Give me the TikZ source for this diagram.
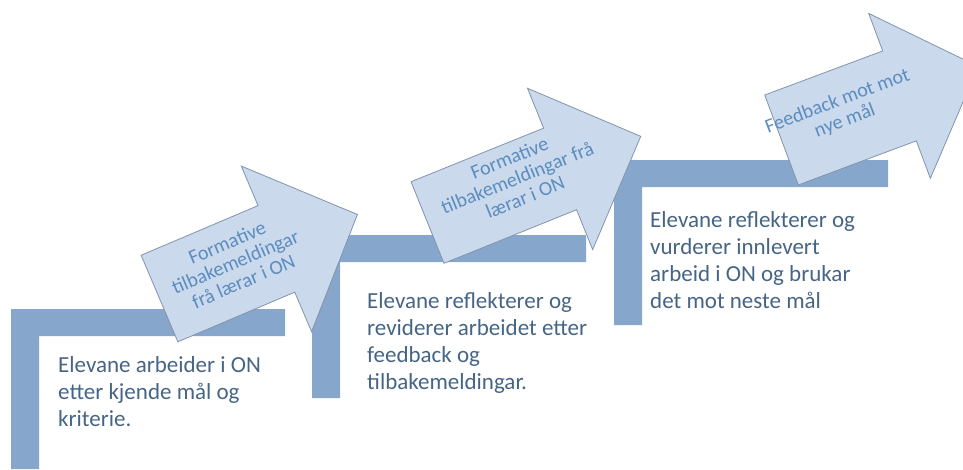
\documentclass[tikz,border=0pt]{standalone}
\usepackage{fontspec}
\setmainfont{Carlito}
\definecolor{barcol}{RGB}{135,166,203}
\definecolor{arrowfill}{RGB}{202,218,236}
\definecolor{arrowline}{RGB}{128,148,172}
\definecolor{arrowtxt}{RGB}{92,140,192}
\definecolor{maintxt}{RGB}{70,101,133}
\tikzset{
  barshape/.style={fill=barcol},
  arrowbox/.style={fill=arrowfill,draw=arrowline,line width=0.8pt,line join=miter},
  arrowtext/.style={text=arrowtxt,align=center,font=\fontsize{20}{21}\selectfont,inner sep=0pt,transform shape},
  maintext/.style={text=maintxt,align=left,font=\fontsize{23}{27}\selectfont,inner sep=0pt,anchor=north west}
}
% #1 shaft length, #2 shaft half width, #3 head half width, #4 head length
\newcommand{\blockarrowpath}[4]{%
  \draw[arrowbox] (0,#2) -- (#1,#2) -- (#1,#3) -- (#1+#4,0) -- (#1,-#3) -- (#1,-#2) -- (0,-#2) -- cycle;}
\begin{document}
\begin{tikzpicture}[x=1pt,y=1pt]
\clip (0,0) rectangle (963,-469);
% steps
\fill[barshape] (11,-469) -- (11,-309) -- (285,-309) -- (285,-336) -- (39,-336) -- (39,-469) -- cycle;
\fill[barshape] (312,-398) -- (312,-235) -- (586,-235) -- (586,-262) -- (340,-262) -- (340,-398) -- cycle;
\fill[barshape] (614,-325) -- (614,-160) -- (888,-160) -- (888,-187) -- (642,-187) -- (642,-325) -- cycle;
% texts
\node[maintext] (s1) at (58,-356) {Elevane arbeider i ON\\etter kjende mål og\\kriterie.};
\node[maintext] (s2) at (367,-292) {Elevane reflekterer og\\reviderer arbeidet etter\\feedback og\\tilbakemeldingar.};
\node[maintext] (s3) at (650,-211) {Elevane reflekterer og\\vurderer innlevert\\arbeid i ON og brukar\\det mot neste mål};
% arrows
\begin{scope}[shift={(159.5,-298.5)},rotate=23]
  \blockarrowpath{127}{47}{90}{88}
  \node[arrowtext] (a1) at (84,4) {Formative\\tilbakemeldingar\\frå lærar i ON};
\end{scope}
\begin{scope}[shift={(427.5,-222.5)},rotate=22]
  \blockarrowpath{143}{44}{87}{87}
  \node[arrowtext] (a2) at (100,8) {Formative\\tilbakemeldingar frå\\lærar i ON};
\end{scope}
\begin{scope}[shift={(781.5,-140)},rotate=20.5]
  \blockarrowpath{126}{48}{88}{84}
  \node[arrowtext] (a3) at (66,6) {Feedback mot mot\\nye mål};
\end{scope}
\end{tikzpicture}
\end{document}
